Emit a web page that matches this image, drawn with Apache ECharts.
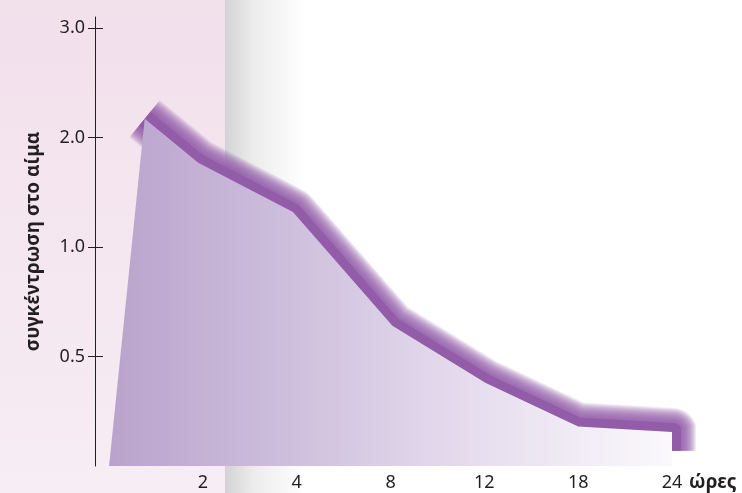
<!DOCTYPE html>
<html>
<head>
<meta charset="utf-8">
<script src="https://cdn.jsdelivr.net/npm/echarts@6/dist/echarts.min.js"></script>
<style>html,body{margin:0;padding:0;background:#fff}#c{width:742px;height:493px}</style>
</head>
<body>
<div id="c"></div>
<script>
// Category slots on the x axis (0 = origin) and their labels
const xTickPositions = [1, 2, 3, 4, 5, 6];
const xTickLabels = ['2', '4', '8', '12', '18', '24'];
// Y axis slots and their labels (non-linear ordinal scale as printed)
const yTickPositions = [1, 2, 3, 4];
const yTickLabels = ['0.5', '1.0', '2.0', '3.0'];
// Curve, in axis-slot units
const curveX = [0, 0.38, 0.95, 1.96, 3.02, 4.01, 5.0, 6.01];
const curveY = [0, 3.17, 2.77, 2.32, 1.28, 0.76, 0.36, 0.31];
const tailX = [6.01];
const tailY = [0.14];

const areaData = curveX.map((x, i) => [x, curveY[i]]);
const lineData = curveX.slice(1).map((x, i) => [x, curveY[i + 1]])
  .concat(tailX.map((x, i) => [x, tailY[i]]));

const FONT = 'Noto Sans';
const INK = '#231f20';

// soft glow: stacked translucent strokes of the same line
const glowSeries = [];
for (let w = 48; w >= 20; w -= 2) {
  glowSeries.push({
    type: 'line', data: lineData, zlevel: 0, z: 1, symbol: 'none', silent: true,
    lineStyle: {color: 'rgba(147,92,169,0.13)', width: w, cap: 'butt', join: 'round'}
  });
}

const chart = echarts.init(document.getElementById('c'), null, {renderer: 'canvas'});
chart.setOption({
  animation: false,
  backgroundColor: '#ffffff',
  graphic: [
    {type: 'rect', z: -10, shape: {x: 0, y: 0, width: 225, height: 493},
     style: {fill: new echarts.graphic.LinearGradient(0, 0, 0, 1, [
       {offset: 0, color: '#f2e0eb'}, {offset: 1, color: '#f7edf4'}])}},
    {type: 'rect', z: -10, shape: {x: 225, y: 0, width: 80, height: 493},
     style: {fill: new echarts.graphic.LinearGradient(0, 0, 1, 0, [
       {offset: 0, color: '#d3d3d5'}, {offset: 0.35, color: '#ececec'}, {offset: 1, color: '#ffffff'}])}}
  ],
  grid: {left: 95, right: 70, top: 17, bottom: 27, containLabel: false},
  xAxis: {
    type: 'value', min: -0.15, max: 6,
    axisLine: {show: false, onZero: false}, axisTick: {show: false}, splitLine: {show: false},
    axisLabel: {
      customValues: xTickPositions, margin: 8,
      formatter: v => xTickLabels[xTickPositions.indexOf(Math.round(v))] || '',
      fontFamily: FONT, fontSize: 18, color: INK
    },
    name: 'ώρες', nameLocation: 'end', nameGap: 17,
    nameTextStyle: {fontFamily: FONT, fontSize: 19, fontWeight: 'bold', color: INK,
      verticalAlign: 'top', padding: [7, 0, 0, 0]}
  },
  yAxis: [{
    type: 'value', min: 0, max: 4.1, position: 'left',
    axisLine: {show: true, onZero: false, lineStyle: {color: INK, width: 1}},
    axisTick: {show: true, customValues: yTickPositions, length: 7, lineStyle: {color: INK}},
    splitLine: {show: false},
    axisLabel: {
      customValues: yTickPositions, margin: 10,
      formatter: v => yTickLabels[yTickPositions.indexOf(Math.round(v))] || '',
      fontFamily: FONT, fontSize: 18, color: INK
    },
    name: 'συγκέντρωση στο αίμα', nameLocation: 'middle', nameGap: 52, nameMoveOverlap: false,
    nameTextStyle: {fontFamily: FONT, fontSize: 19, fontWeight: 'bold', color: INK}
  }, {
    type: 'value', min: 0, max: 4.1, position: 'left',
    axisLine: {show: false, onZero: false}, splitLine: {show: false}, axisLabel: {show: false},
    axisTick: {show: true, inside: true, customValues: yTickPositions, length: 8, lineStyle: {color: INK}}
  }],
  series: glowSeries.concat([{
    type: 'line', data: lineData, zlevel: 0, z: 2, symbol: 'none', silent: true,
    lineStyle: {color: '#935ca9', width: 18, cap: 'butt', join: 'round'}
  }, {
    type: 'line', data: areaData, zlevel: 1, z: 3, symbol: 'none', silent: true,
    lineStyle: {width: 0},
    areaStyle: {opacity: 1, color: new echarts.graphic.LinearGradient(0, 0, 1, 0, [
      {offset: 0, color: '#b9a3cc'}, {offset: 0.3, color: '#cdbddc'},
      {offset: 0.6, color: '#e3d9ec'}, {offset: 1, color: '#fbf9fc'}])}
  }])
});
</script>
</body>
</html>
